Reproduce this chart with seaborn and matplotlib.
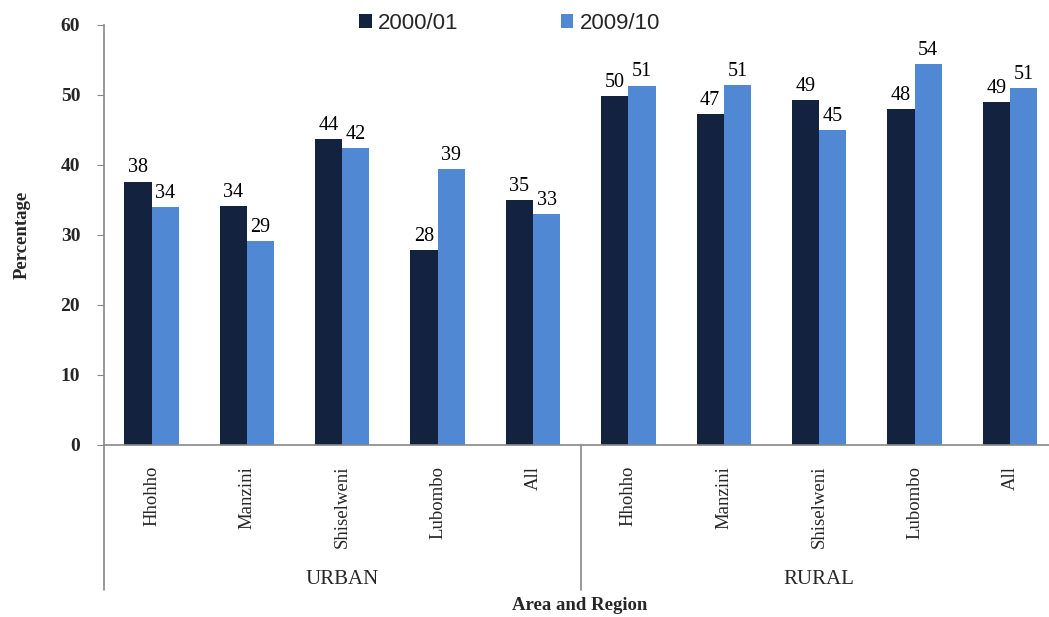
import numpy as np
import pandas as pd
import seaborn as sns
import matplotlib.pyplot as plt
from matplotlib.lines import Line2D

# dados
regioes = ['Hhohho', 'Manzini', 'Shiselweni', 'Lubombo', 'All']
areas = ['URBAN', 'RURAL']
anos = ['2000/01', '2009/10']

urbano_2000 = [37.6, 34.1, 43.7, 27.8, 35.0]
urbano_2009 = [34.0, 29.1, 42.4, 39.4, 33.0]
rural_2000 = [49.8, 47.2, 49.2, 48.0, 49.0]
rural_2009 = [51.3, 51.4, 44.9, 54.4, 51.0]

cores = ['#13223f', '#5088d4']

linhas = []
for area, v2000, v2009 in [('URBAN', urbano_2000, urbano_2009), ('RURAL', rural_2000, rural_2009)]:
    for i, reg in enumerate(regioes):
        linhas.append({'cat': area + '_' + reg, 'regiao': reg, 'ano': anos[0], 'valor': v2000[i]})
        linhas.append({'cat': area + '_' + reg, 'regiao': reg, 'ano': anos[1], 'valor': v2009[i]})
df = pd.DataFrame(linhas)
ordem = [a + '_' + r for a in areas for r in regioes]

sns.set_style('white')
fig = plt.figure(figsize=(10.49, 6.17), dpi=100)
ax = fig.add_axes([0.099, 0.279, 0.901, 0.681])

sns.barplot(data=df, x='cat', y='valor', hue='ano', order=ordem, hue_order=anos,
            palette=cores, width=0.57, ax=ax, saturation=1, legend=True, linewidth=0)

for cont in ax.containers:
    ax.bar_label(cont, fmt='%.0f', padding=3, fontsize=14.5, family='Liberation Serif', color='black')

ax.set_ylim(0, 60)
ax.set_xlim(-0.5, 9.41)
ax.set_yticks(range(0, 61, 10))
ax.set_yticklabels([str(v) for v in range(0, 61, 10)], fontsize=14, fontweight='bold',
                   family='Liberation Serif')
ax.set_xticks(range(10))
ax.set_xticklabels(regioes * 2, rotation=90, fontsize=13.5, family='Liberation Serif')
ax.tick_params(axis='x', length=0, pad=15)
ax.tick_params(axis='y', length=5, color='#888888', direction='out', left=True, pad=12)

for lado in ['top', 'right']:
    ax.spines[lado].set_visible(False)
for lado in ['left', 'bottom']:
    ax.spines[lado].set_color('#888888')
    ax.spines[lado].set_linewidth(1.2)

# linha vertical que desce ate os grupos
trans = ax.get_xaxis_transform()
ax.add_line(Line2D([-0.5, -0.5], [0, -0.345], transform=trans, color='#888888', lw=1.2, clip_on=False))
ax.add_line(Line2D([4.5, 4.5], [0, -0.345], transform=trans, color='#888888', lw=1.2, clip_on=False))

ax.text(2, -0.32, 'URBAN', transform=trans, ha='center', va='center', fontsize=15, family='Liberation Serif')
ax.text(7, -0.32, 'RURAL', transform=trans, ha='center', va='center', fontsize=15, family='Liberation Serif')

ax.set_xlabel('')
ax.set_ylabel('')
fig.text(0.553, 0.018, 'Area and Region', ha='center', va='center', fontsize=13.5, fontweight='bold',
         family='Liberation Serif')
fig.text(0.021, 0.62, 'Percentage', ha='center', va='center', rotation=90, fontsize=13.5,
         fontweight='bold', family='Liberation Serif')

leg = ax.legend(loc='center', bbox_to_anchor=(0.486, 0.962), bbox_transform=fig.transFigure,
                ncol=2, frameon=False, handlelength=0.55, handleheight=0.55,
                handletextpad=0.3, columnspacing=4.6, prop={'family': 'Liberation Sans', 'size': 16})

fig.savefig('out.png', dpi=100)
